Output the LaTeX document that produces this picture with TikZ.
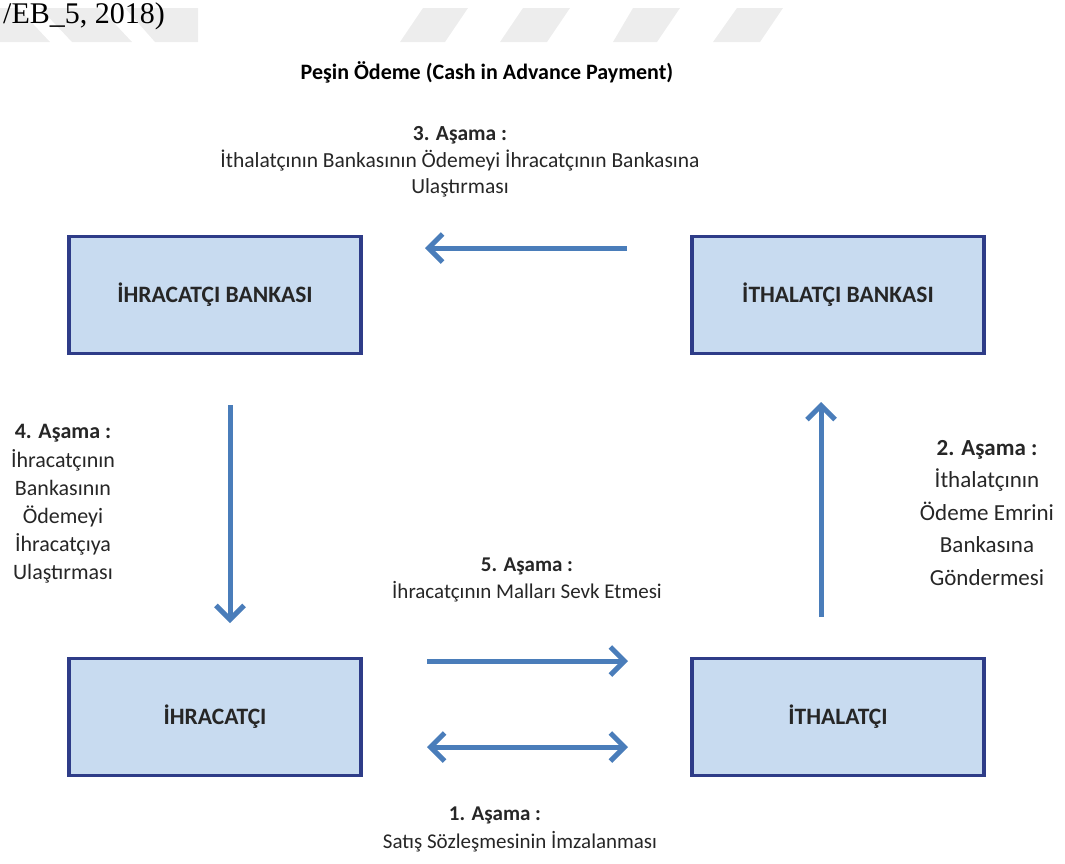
\documentclass[tikz,border=0pt]{standalone}
\usepackage{fontspec}
\setmainfont{Carlito}
\newfontfamily\timesf{Liberation Serif}
\usetikzlibrary{arrows.meta}
\definecolor{boxfill}{HTML}{C8DBF0}
\definecolor{boxline}{HTML}{2E3C88}
\definecolor{arrowblue}{HTML}{4A7DBA}
\definecolor{txt}{HTML}{262626}
\definecolor{wm}{HTML}{EDEDED}
\tikzset{
  party/.style={draw=boxline, line width=3.5pt, fill=boxfill, minimum width=292pt, minimum height=117pt,
    font=\bfseries\fontsize{23.5}{26}\selectfont, text=txt, inner sep=0pt},
  flow/.style={draw=arrowblue, line width=5pt, -{Straight Barb[length=14pt,width=28pt]}},
  flowboth/.style={draw=arrowblue, line width=5pt, {Straight Barb[length=14pt,width=28pt]}-{Straight Barb[length=14pt,width=28pt]}},
  lbl/.style={align=center, text=txt, inner sep=0pt},
}
\begin{document}
\begin{tikzpicture}[x=1pt,y=-1pt]
\useasboundingbox (0,0) rectangle (1065,863);
% watermark
\fill[wm] (0,8) -- (18,8) -- (50,42) -- (0,42) -- cycle;
\fill[wm] (40,8) -- (100,8) -- (132,42) -- (72,42) -- cycle;
\fill[wm] (125,8) -- (198,8) -- (198,42) -- (155,42) -- cycle;
\fill[wm] (423,8) -- (468,8) -- (445,42) -- (400,42) -- cycle;
\fill[wm] (523,8) -- (570,8) -- (547,42) -- (500,42) -- cycle;
\fill[wm] (633,8) -- (680,8) -- (657,42) -- (613,42) -- cycle;
\fill[wm] (737,8) -- (783,8) -- (760,42) -- (713,42) -- cycle;
\node[anchor=base west, inner sep=0pt, font=\timesf\fontsize{30}{31}\selectfont] (src) at (3,23) {/EB\_5, 2018)};
% title
\node[font=\bfseries\fontsize{22}{26}\selectfont, inner sep=0pt] (title) at (487,72) {Peşin Ödeme (Cash in Advance Payment)};
% boxes
\node[party] (ihb) at (215,295) {İHRACATÇI BANKASI};
\node[party] (itb) at (838,295) {İTHALATÇI BANKASI};
\node[party] (ih) at (215,717) {İHRACATÇI};
\node[party] (it) at (838,717) {İTHALATÇI};
% arrow ends
\coordinate (a3s) at (627,248);
\coordinate (a3e) at (425,248);
\coordinate (a4s) at (230,405);
\coordinate (a4e) at (230,623);
\coordinate (a2s) at (821,617);
\coordinate (a2e) at (821,402);
\coordinate (a5s) at (427,661);
\coordinate (a5e) at (628,661);
\coordinate (a1s) at (427,747);
\coordinate (a1e) at (628,747);
\draw[flow] (a3s) -- (a3e);
\draw[flow] (a4s) -- (a4e);
\draw[flow] (a2s) -- (a2e);
\draw[flow] (a5s) -- (a5e);
\draw[flowboth] (a1s) -- (a1e);
% labels
\node[lbl, font=\fontsize{21.5}{26.5}\selectfont] (l3) at (460,162) {\textbf{3. Aşama :}\\İthalatçının Bankasının Ödemeyi İhracatçının Bankasına\\Ulaştırması};
\node[lbl, font=\fontsize{22}{28.2}\selectfont] (l4) at (63,504) {\textbf{4. Aşama :}\\İhracatçının\\Bankasının\\Ödemeyi\\İhracatçıya\\Ulaştırması};
\node[lbl, font=\fontsize{23}{32.5}\selectfont] (l2) at (987,513) {\textbf{2. Aşama :}\\İthalatçının\\Ödeme Emrini\\Bankasına\\Göndermesi};
\node[lbl, font=\fontsize{21}{26.5}\selectfont] (l5) at (527,580) {\textbf{5. Aşama :}\\İhracatçının Malları Sevk Etmesi};
\node[lbl, font=\bfseries\fontsize{21}{26.5}\selectfont] (l1a) at (495,815) {1. Aşama :};
\node[lbl, font=\fontsize{21}{26.5}\selectfont] (l1b) at (520,842) {Satış Sözleşmesinin İmzalanması};
\end{tikzpicture}
\end{document}
